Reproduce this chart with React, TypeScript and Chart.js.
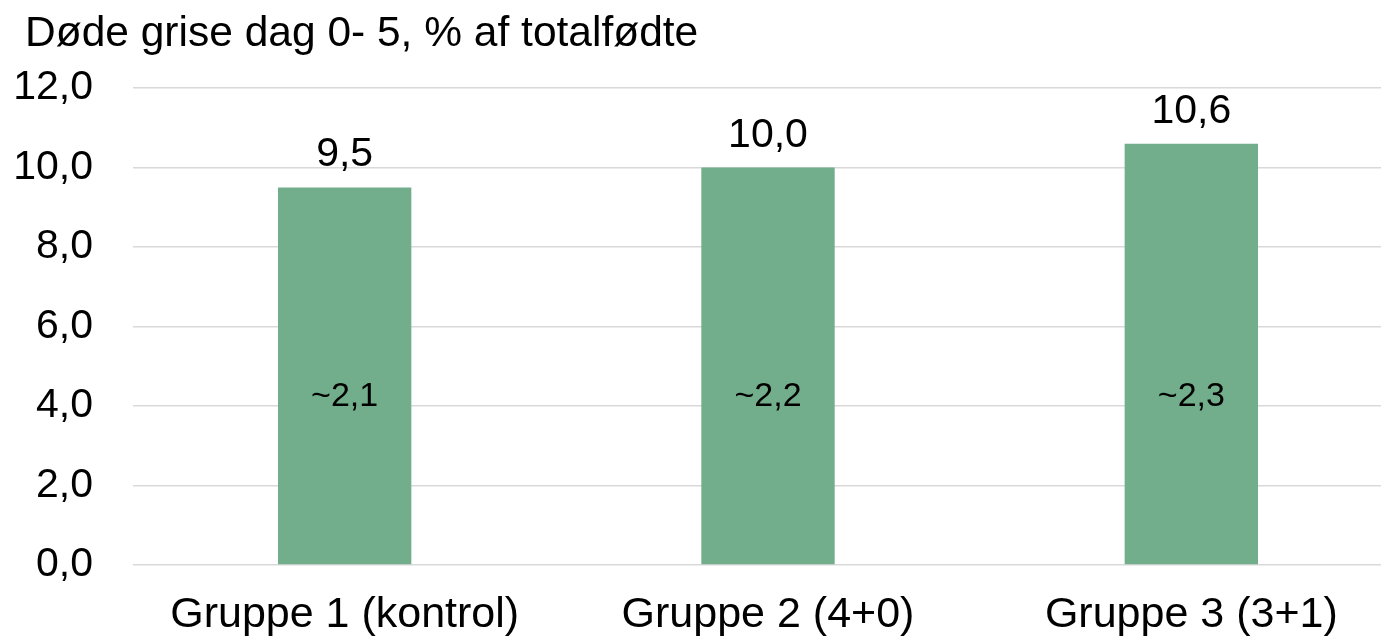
import React, { useEffect, useRef } from "react";
import { Chart, registerables } from "chart.js";

Chart.register(...registerables);

const titleText = "Døde grise dag 0- 5, % af totalfødte";
const categories = ["Gruppe 1 (kontrol)", "Gruppe 2 (4+0)", "Gruppe 3 (3+1)"];
const values = [9.5, 10.0, 10.6];
const innerLabels = ["~2,1", "~2,2", "~2,3"];
const innerLabelValue = 4.0;
const yTicks = [0, 2, 4, 6, 8, 10, 12];

const FONT = "'Liberation Sans', Arial, sans-serif";
const fmt = (v: number) => v.toFixed(1).replace(".", ",");

const labelPlugin = {
  id: "barLabels",
  afterDraw(chart: any) {
    const ctx = chart.ctx;
    const meta = chart.getDatasetMeta(0);
    const yScale = chart.scales.y;
    ctx.save();
    ctx.fillStyle = "#000";
    ctx.textAlign = "left";
    ctx.textBaseline = "alphabetic";
    ctx.font = `42.5px ${FONT}`;
    ctx.fillText(titleText, 25, 46);
    ctx.textAlign = "center";
    meta.data.forEach((bar: any, i: number) => {
      ctx.font = `41px ${FONT}`;
      ctx.fillText(fmt(values[i]), bar.x, bar.y - 21);
      ctx.font = `34px ${FONT}`;
      ctx.fillText(innerLabels[i], bar.x, yScale.getPixelForValue(innerLabelValue));
    });
    ctx.restore();
  },
};

export default function App() {
  const ref = useRef<HTMLCanvasElement>(null);
  useEffect(() => {
    if (!ref.current) return;
    const chart = new Chart(ref.current, {
      type: "bar",
      data: {
        labels: categories,
        datasets: [
          {
            data: values,
            backgroundColor: "#72AE8B",
            categoryPercentage: 1,
            barPercentage: 0.315,
          },
        ],
      },
      options: {
        animation: false,
        responsive: false,
        maintainAspectRatio: false,
        layout: { padding: { left: 0, right: 0, top: 88, bottom: 0 } },
        plugins: {
          legend: { display: false },
          tooltip: { enabled: false },
          title: { display: false },
        },
        scales: {
          x: {
            grid: { display: false, drawTicks: false },
            border: { display: false },
            ticks: {
              color: "#000",
              font: { family: FONT, size: 43 },
              padding: 24,
              maxRotation: 0,
            },
            afterFit: (s: any) => {
              s.height = 73;
            },
          },
          y: {
            min: 0,
            max: 12,
            afterBuildTicks: (s: any) => {
              s.ticks = yTicks.map((v) => ({ value: v }));
            },
            grid: { color: "#d9d9d9", lineWidth: 1.5, drawTicks: false },
            border: { display: false },
            ticks: {
              color: "#000",
              font: { family: FONT, size: 41 },
              padding: 40,
              callback: (v: any) => fmt(Number(v)),
            },
            afterFit: (s: any) => {
              s.width = 133;
            },
          },
        },
      },
      plugins: [labelPlugin],
    });
    return () => chart.destroy();
  }, []);
  return (
    <div
      style={{
        position: "absolute",
        left: 0,
        top: 0,
        width: 1381,
        height: 638,
        overflow: "hidden",
        background: "#fff",
      }}
    >
      <canvas ref={ref} width={1403} height={638} style={{ width: 1403, height: 638 }} />
    </div>
  );
}
